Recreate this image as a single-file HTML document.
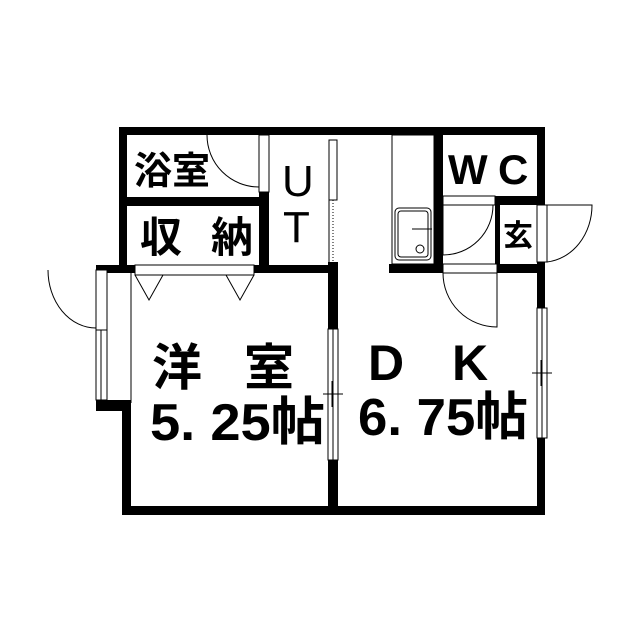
<!DOCTYPE html>
<html><head><meta charset="utf-8"><style>
html,body{margin:0;padding:0;background:#fff;}
svg{display:block;}
text{font-family:"Liberation Sans","Noto Sans CJK JP",sans-serif;fill:#000;font-weight:bold;}
</style></head><body>
<svg width="640" height="640" viewBox="0 0 640 640" xmlns="http://www.w3.org/2000/svg">
<rect width="640" height="640" fill="#fff"/>
<g fill="#000">
<rect x="119" y="127" width="426" height="8"/>
<rect x="119" y="127" width="8" height="146"/>
<rect x="119" y="197" width="150" height="9"/>
<rect x="259" y="192" width="10" height="81"/>
<rect x="96" y="265" width="39" height="8"/>
<rect x="254" y="265" width="80" height="8"/>
<rect x="96" y="265" width="11" height="5"/>
<rect x="96" y="400" width="35" height="11"/>
<rect x="122" y="403" width="9" height="112"/>
<rect x="122" y="506" width="423" height="9"/>
<rect x="328" y="262" width="10" height="67"/>
<rect x="328" y="460" width="10" height="50"/>
<rect x="389" y="264" width="56" height="9"/>
<rect x="495" y="264" width="50" height="9"/>
<rect x="434" y="127" width="9" height="146"/>
<rect x="495" y="196" width="50" height="9"/>
<rect x="495" y="196" width="5" height="77"/>
<rect x="537" y="127" width="8" height="78"/>
<rect x="537" y="262" width="8" height="46"/>
<rect x="537" y="438" width="8" height="77"/>
</g>
<g fill="#fff" stroke="#000" stroke-width="1">
<rect x="259" y="135" width="10" height="57"/>
<rect x="329" y="140" width="8" height="60"/>
<line x1="333" y1="200" x2="333" y2="262" stroke-dasharray="1,2"/>
<line x1="329" y1="200" x2="329" y2="262"/>
<rect x="135" y="265" width="119" height="10"/>
<rect x="96" y="270" width="11" height="60"/>
<rect x="96" y="330" width="11" height="70"/>
<line x1="101" y1="330" x2="101" y2="400"/>
<rect x="328" y="329" width="10" height="131"/>
<line x1="333" y1="329" x2="333" y2="460"/>
<rect x="537" y="308" width="10" height="130"/>
<line x1="542" y1="308" x2="542" y2="438"/>
<rect x="443" y="196" width="52" height="9"/>
<rect x="443" y="264" width="54" height="9"/>
<rect x="537" y="205" width="10" height="57"/>
<rect x="392" y="135" width="42" height="129"/>
<rect x="395" y="208" width="36" height="52" rx="4"/>
<rect x="398" y="211" width="30" height="46" rx="3"/>
<circle cx="420" cy="249" r="4"/>
</g>
<g fill="none" stroke="#000" stroke-width="1">
<line x1="131" y1="273" x2="131" y2="403"/>
<path d="M207 135 A52 52 0 0 0 259 187"/>
<path d="M48 270 A48 58 0 0 0 96 328"/>
<path d="M135 275 L149 300 L163 275 M226 275 L240 300 L254 275"/>
<path d="M443 205 L443 255 A50 50 0 0 0 493 205"/>
<path d="M443 273 A54 54 0 0 0 497 327 L497 273"/>
<path d="M547 205 L592 205 A50 57 0 0 1 547 262"/>
<line x1="412" y1="229" x2="432" y2="229"/>
<line x1="323" y1="394" x2="343" y2="394"/>
<line x1="332" y1="381" x2="332" y2="407"/>
<line x1="532" y1="373" x2="552" y2="373"/>
<line x1="541" y1="360" x2="541" y2="386"/>
</g>
<text x="134" y="184" font-size="38">浴室</text>
<text x="282" y="196" font-size="44" style="font-weight:normal">U</text>
<text x="283" y="242" font-size="44" style="font-weight:normal">T</text>
<text x="140" y="252" font-size="42">収</text>
<text x="211" y="252" font-size="42">納</text>
<text x="448" y="184" font-size="42">W</text>
<text x="498" y="184" font-size="42">C</text>
<text x="503" y="246" font-size="30">玄</text>
<text x="152" y="385" font-size="50">洋</text>
<text x="244" y="385" font-size="50">室</text>
<text x="150" y="440" font-size="52" textLength="175" lengthAdjust="spacingAndGlyphs">5. 25帖</text>
<text x="368" y="380" font-size="50">D</text>
<text x="452" y="380" font-size="50">K</text>
<text x="358" y="435" font-size="52" textLength="170" lengthAdjust="spacingAndGlyphs">6. 75帖</text>
</svg>
</body></html>
